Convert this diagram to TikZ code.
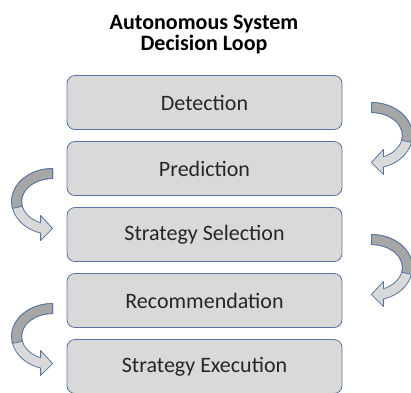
\documentclass[tikz,border=0pt]{standalone}
\usepackage{fontspec}
\setmainfont{Carlito}
\usetikzlibrary{positioning}
\definecolor{boxfill}{RGB}{217,217,217}
\definecolor{boxline}{RGB}{88,116,160}
\definecolor{darkband}{RGB}{166,166,166}
\tikzset{
  stage/.style={draw=boxline, fill=boxfill, line width=0.8pt, rounded corners=8pt,
    minimum width=275pt, minimum height=54pt, text=black!85,
    font=\fontsize{22}{26}\selectfont},
  turn/.pic={
    % light underside with the head
    \filldraw[fill=boxfill, draw=boxline, line width=0.8pt, line join=round]
      (0,0) arc[start angle=90, end angle=-73, x radius=41, y radius=33]
      -- (12,-72) -- (0,-60) -- (12,-47) -- (12,-54.2)
      arc[start angle=-67.2, end angle=90, x radius=31, y radius=23] -- cycle;
    % dark upper part
    \filldraw[fill=darkband, draw=boxline, line width=0.8pt, line join=round]
      (0,0) arc[start angle=90, end angle=-12, x radius=41, y radius=33]
      -- ({31*cos(-12)},{-33+23*sin(-12)})
      arc[start angle=-12, end angle=90, x radius=31, y radius=23] -- cycle;
  }
}
\begin{document}
\begin{tikzpicture}[x=1pt, y=1pt]
  \useasboundingbox (0,0) rectangle (411,-392);
  \node[font=\bfseries\fontsize{22}{21}\selectfont, align=center, text=black] (title) at (204,-35) {Autonomous System\\Decision Loop};
  \node[stage] (det) at (204.5,-102.5) {Detection};
  \node[stage, below=11.2pt of det] (pred) {Prediction};
  \node[stage, below=11.2pt of pred] (sel) {Strategy Selection};
  \node[stage, below=11.2pt of sel] (rec) {Recommendation};
  \node[stage, below=11.2pt of rec] (exe) {Strategy Execution};
  % turning arrows between the stages
  \path (det.east) ++(29,0) pic {turn};
  \path (pred.west) ++(-14,0) pic[xscale=-1] {turn};
  \path (sel.east) ++(29,0) pic {turn};
  \path (rec.west) ++(-14,-3) pic[xscale=-1] {turn};
\end{tikzpicture}
\end{document}
